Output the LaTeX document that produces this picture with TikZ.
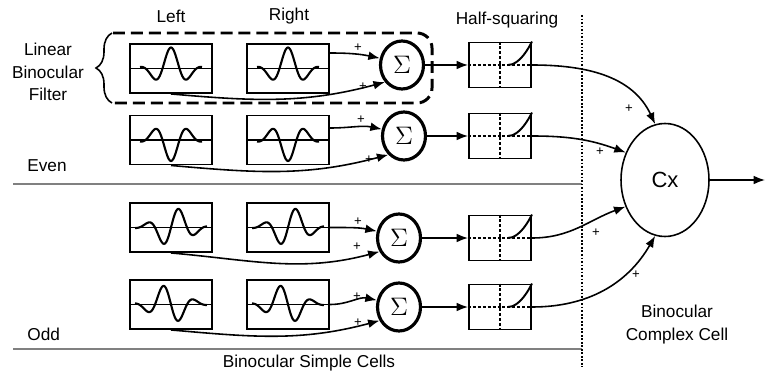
\documentclass[tikz,border=0pt]{standalone}
\usepackage{fontspec}
\setmainfont{Liberation Sans}
\usepackage{tikz}
\usetikzlibrary{arrows.meta,calc,shapes.geometric,decorations.pathreplacing}
\tikzset{
  filt/.style={draw,line width=1.1pt,minimum width=16.4mm,minimum height=9.8mm,inner sep=0pt},
  hsq/.style={draw,line width=1.1pt,minimum width=12.4mm,minimum height=9mm,inner sep=0pt},
  sumn/.style={ellipse,draw,line width=1.8pt,minimum width=8.6mm,minimum height=9.6mm,inner sep=0pt,font=\fontsize{14}{16}\selectfont},
  cell/.style={ellipse,draw,line width=0.9pt,minimum width=17.6mm,minimum height=22.6mm,inner sep=0pt,font=\fontsize{12.5}{14}\selectfont},
  arr/.style={-{Latex[length=6.5pt,width=5pt]},line width=0.9pt},
  pls/.style={font=\fontsize{7.5}{8}\selectfont,inner sep=0pt},
  lbl/.style={font=\fontsize{9.8}{12.8}\selectfont,align=center,inner sep=0pt},
  wav/.style={line width=1.2pt},
  hd/.style={line width=1.1pt,dash pattern=on 1.7pt off 1.1pt},
}

\begin{document}
\begin{tikzpicture}[x=0.2mm,y=0.2mm]
  \useasboundingbox (0,0) rectangle (765,377);
  % titles
  \node[lbl] (lft) at (171,361) {Left};
  \node[lbl] (rgt) at (289,361) {Right};
  \node[lbl] (hsqt) at (507,357) {Half-squaring};
  \node[lbl] (lbf) at (48,305) {Linear\\Binocular\\Filter};
  \node[lbl,anchor=west] (evn) at (27,211) {Even};
  \node[lbl,anchor=west] (odd) at (27,43) {Odd};
  \node[lbl] (bsc) at (309,14) {Binocular Simple Cells};
  \node[lbl] (bcc) at (677,52.5) {Binocular\\Complex Cell};
  % filters
  \foreach \r/\y in {1/308.5,2/237,3/149.5,4/72.5} {
    \node[filt] (L\r) at (171,\y) {}; \node[filt] (R\r) at (288,\y) {};
    \draw[line width=0.9pt] (L\r.west) -- (L\r.east) (R\r.west) -- (R\r.east);
  }
  \foreach \r/\s in {1/1,2/-1} \foreach \b in {L,R}
    \draw[wav,shift={(\b\r.center)}] plot[domain=-31:31,samples=61,smooth] (\x,{(\s)*21*exp(-(\x)*(\x)/400)*cos(\x*180/17)});
  \foreach \r/\s/\c in {3/1/2,4/-1/-2} \foreach \b in {L,R}
    \draw[wav,shift={(\b\r.center)}] plot[domain=-36:36,samples=73,smooth] (\x,{(\s)*20*exp(-(\x-(\c))*(\x-(\c))/450)*sin(\x*180/16)});
  % sums and half-squaring
  \foreach \r/\x/\y/\d/\a in {1/402/312/15.5/225,2/404/241/12/230,3/399/139/0/215,4/399/70/0/215} {
    \node[sumn] (S\r) at (\x,\y) {$\Sigma$};
    \node[hsq] (H\r) at (500,\y) {};
    \draw[hd] (H\r.west) -- (H\r.east) (H\r.north) -- (H\r.south);
    \draw[line width=1.1pt] ($(H\r.center)+(8,0)$) parabola[bend at start] (H\r.north east);
    \draw[arr] (S\r) -- (H\r);
    \draw[arr] ($(R\r.east)+(0,\d)$) to[out=0,in=168] (S\r.163);
    \draw[arr] (L\r.south) to[out=-5,in=195] (S\r.\a);
  }
  % linear binocular filter
  \draw[line width=1.7pt,dash pattern=on 6.8pt off 3.4pt,rounded corners=3mm] (113,344) -- (432,344) -- (432,274) -- (113,274);
  \draw[line width=0.9pt,decorate,decoration={brace,amplitude=3.2mm}] (112,274) -- (112,344);
  % complex cell
  \node[cell] (cx) at (665,197) {Cx};
  \coordinate (out) at (765,197);
  \draw[arr] (cx) -- (out);
  \foreach \r/\a/\i in {1/100/115,2/145/160,3/214/200,4/260/240}
    \draw[arr] (H\r.east) to[out=0,in=\i] (cx.\a);
  \foreach \n/\x/\y in {1a/358/329,1b/363/290,2a/361/257,2b/369/217,3a/358/155,3b/357/130,4a/357/80,4b/358/54,c1/629/268,c2/600/225,c3/596/144,c4/636/102}
    \node[pls] (p\n) at (\x,\y) {+};
  % separators
  \draw[gray,line width=0.6pt] (13,193) -- (582,193) (13,28) -- (582,28);
  \draw[line width=1pt,densely dotted] (582,362) -- (582,10);
\end{tikzpicture}
\end{document}
